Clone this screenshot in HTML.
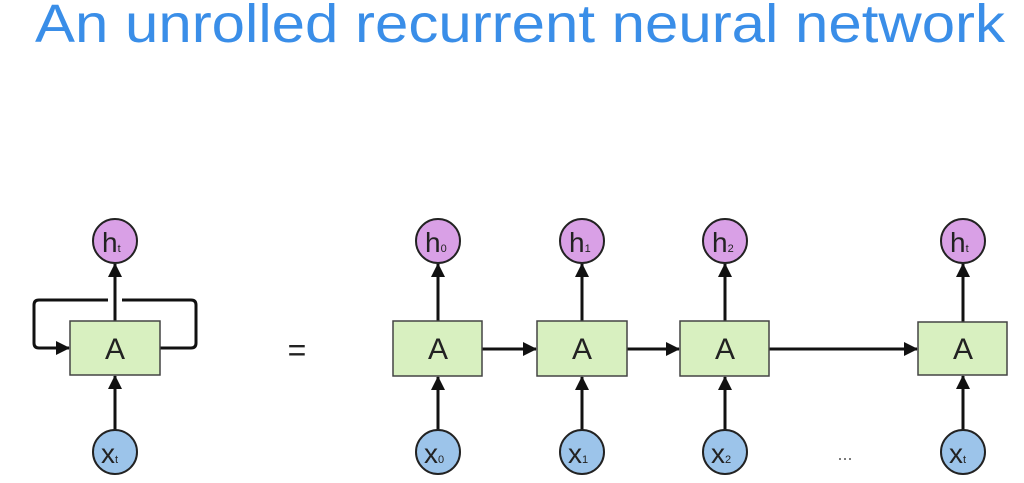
<!DOCTYPE html>
<html><head><meta charset="utf-8"><style>
html,body{margin:0;padding:0;background:#fff;width:1024px;height:483px;overflow:hidden}
</style></head><body>
<svg width="1024" height="483" xmlns="http://www.w3.org/2000/svg" font-family="Liberation Sans, sans-serif">
<defs>
<marker id="ar" markerWidth="14" markerHeight="14" refX="13" refY="7" orient="auto" markerUnits="userSpaceOnUse" viewBox="0 0 14 14">
<path d="M0,0 L14,7 L0,14 z" fill="#111"/></marker>
</defs>
<text x="35" y="42" font-size="54" fill="#3a8ee8" textLength="970" lengthAdjust="spacingAndGlyphs">An unrolled recurrent neural network</text>

<g stroke="#111" stroke-width="3" fill="none">
<path d="M160,348 H191 Q196,348 196,343 V305 Q196,300 191,300 H122"/>
<path d="M108,300 H39 Q34,300 34,305 V343 Q34,348 39,348 H69" marker-end="url(#ar)"/>
<line x1="115" y1="321" x2="115" y2="264" marker-end="url(#ar)"/>
<line x1="115" y1="430" x2="115" y2="376" marker-end="url(#ar)"/>
<line x1="438" y1="321" x2="438" y2="264" marker-end="url(#ar)"/>
<line x1="438" y1="430" x2="438" y2="377" marker-end="url(#ar)"/>
<line x1="582" y1="321" x2="582" y2="264" marker-end="url(#ar)"/>
<line x1="582" y1="430" x2="582" y2="377" marker-end="url(#ar)"/>
<line x1="725" y1="321" x2="725" y2="264" marker-end="url(#ar)"/>
<line x1="725" y1="430" x2="725" y2="377" marker-end="url(#ar)"/>
<line x1="963" y1="322" x2="963" y2="264" marker-end="url(#ar)"/>
<line x1="963" y1="430" x2="963" y2="376" marker-end="url(#ar)"/>
<line x1="482" y1="349" x2="536" y2="349" marker-end="url(#ar)"/>
<line x1="627" y1="349" x2="679" y2="349" marker-end="url(#ar)"/>
<line x1="769" y1="349" x2="917" y2="349" marker-end="url(#ar)"/>
</g>

<g fill="#d8f0c0" stroke="#444" stroke-width="1.5">
<rect x="70" y="321" width="90" height="54"/>
<rect x="393" y="321" width="89" height="55"/>
<rect x="537" y="321" width="90" height="55"/>
<rect x="680" y="321" width="89" height="55"/>
<rect x="918" y="322" width="89" height="53"/>
</g>
<g font-size="30" fill="#222" text-anchor="middle">
<text x="115" y="359">A</text>
<text x="438" y="359">A</text>
<text x="582" y="359">A</text>
<text x="725" y="359">A</text>
<text x="963" y="359">A</text>
</g>

<g stroke="#222" stroke-width="2">
<g fill="#d9a0e6">
<circle cx="115" cy="241" r="22"/><circle cx="438" cy="241" r="22"/><circle cx="582" cy="241" r="22"/><circle cx="725" cy="241" r="22"/><circle cx="963" cy="241" r="22"/>
</g>
<g fill="#9cc4ea">
<circle cx="115" cy="452" r="22"/><circle cx="438" cy="452" r="22"/><circle cx="582" cy="452" r="22"/><circle cx="725" cy="452" r="22"/><circle cx="963" cy="452" r="22"/>
</g>
</g>
<g font-size="28" fill="#222">
<text x="102" y="252">h<tspan font-size="11">t</tspan></text>
<text x="425" y="252">h<tspan font-size="11">0</tspan></text>
<text x="569" y="252">h<tspan font-size="11">1</tspan></text>
<text x="712" y="252">h<tspan font-size="11">2</tspan></text>
<text x="950" y="252">h<tspan font-size="11">t</tspan></text>
<text x="101" y="463">x<tspan font-size="11">t</tspan></text>
<text x="424" y="463">x<tspan font-size="11">0</tspan></text>
<text x="568" y="463">x<tspan font-size="11">1</tspan></text>
<text x="711" y="463">x<tspan font-size="11">2</tspan></text>
<text x="949" y="463">x<tspan font-size="11">t</tspan></text>
</g>
<text x="297" y="361" font-size="32" fill="#222" text-anchor="middle">=</text>
<text x="845" y="460" font-size="18" fill="#666" text-anchor="middle">...</text>
</svg>
</body></html>
